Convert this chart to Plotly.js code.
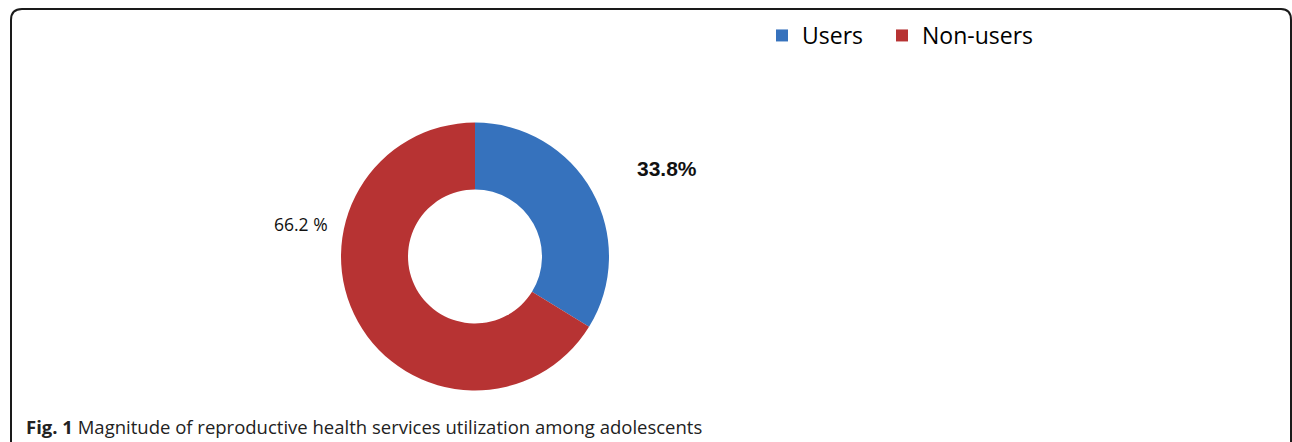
<!DOCTYPE html>
<html>
<head>
<meta charset="utf-8">
<script src="https://cdn.plot.ly/plotly-3.0.1.min.js"></script>
<style>
  html, body { margin: 0; padding: 0; background: #ffffff; }
  #chart { width: 1292px; height: 442px; }
</style>
</head>
<body>
<div id="chart"></div>
<script>
// ---- data ----
var categories = ["Users", "Non-users"];
var percentages = [33.8, 66.2];
var sliceColors = ["#3672bd", "#b73333"];
var captionBold = "Fig. 1";
var captionText = "Magnitude of reproductive health services utilization among adolescents";

var W = 1292, H = 442;
function px(x) { return x / W; }
function py(y) { return 1 - y / H; }

// rounded frame path (paper coords)
var frame = "M" + px(11) + "," + py(445) +
  " L" + px(11) + "," + py(20) +
  " Q" + px(11) + "," + py(9) + " " + px(22) + "," + py(9) +
  " L" + px(1281) + "," + py(9) +
  " Q" + px(1291) + "," + py(9) + " " + px(1291) + "," + py(20) +
  " L" + px(1291) + "," + py(445);

var trace = {
  type: "pie",
  labels: categories,
  values: percentages,
  marker: { colors: sliceColors, line: { width: 0 } },
  hole: 0.5,
  sort: false,
  direction: "clockwise",
  rotation: 0,
  textinfo: "none",
  hoverinfo: "label+percent",
  domain: { x: [px(341), px(609)], y: [py(391), py(122)] }
};

var layout = {
  width: W, height: H,
  margin: { l: 0, r: 0, t: 0, b: 0 },
  paper_bgcolor: "#ffffff",
  plot_bgcolor: "#ffffff",
  showlegend: true,
  legend: {
    orientation: "h",
    x: px(762), y: py(14),
    xanchor: "left", yanchor: "top",
    font: { family: "Open Sans, sans-serif", size: 23, color: "#000" },
    itemwidth: 30,
    entrywidth: 75,
    entrywidthmode: "pixels",
    bgcolor: "rgba(0,0,0,0)"
  },
  shapes: [
    { type: "path", xref: "paper", yref: "paper", path: frame,
      line: { color: "#1a1a1a", width: 2 } }
  ],
  annotations: [
    { xref: "paper", yref: "paper", x: px(667), y: py(168),
      xanchor: "center", yanchor: "middle",
      text: "<b>" + percentages[0].toFixed(1) + "%</b>", showarrow: false,
      font: { family: "Liberation Sans, Arial, sans-serif", size: 21, color: "#111" } },
    { xref: "paper", yref: "paper", x: px(301), y: py(224),
      xanchor: "center", yanchor: "middle",
      text: percentages[1].toFixed(1) + " %", showarrow: false,
      font: { family: "Open Sans, sans-serif", size: 17.5, color: "#111" } },
    { xref: "paper", yref: "paper", x: px(24), y: py(426),
      xanchor: "left", yanchor: "middle",
      text: "<b>" + captionBold + "</b> " + captionText, showarrow: false,
      font: { family: "Open Sans, sans-serif", size: 18.5, color: "#222" } }
  ]
};

Plotly.newPlot("chart", [trace], layout, { displayModeBar: false, staticPlot: true }).then(function (gd) {
  // let the wider second legend entry show in full
  var nodes = gd.querySelectorAll(".legend [clip-path]");
  nodes.forEach(function (n) { n.removeAttribute("clip-path"); });
});
</script>
</body>
</html>
